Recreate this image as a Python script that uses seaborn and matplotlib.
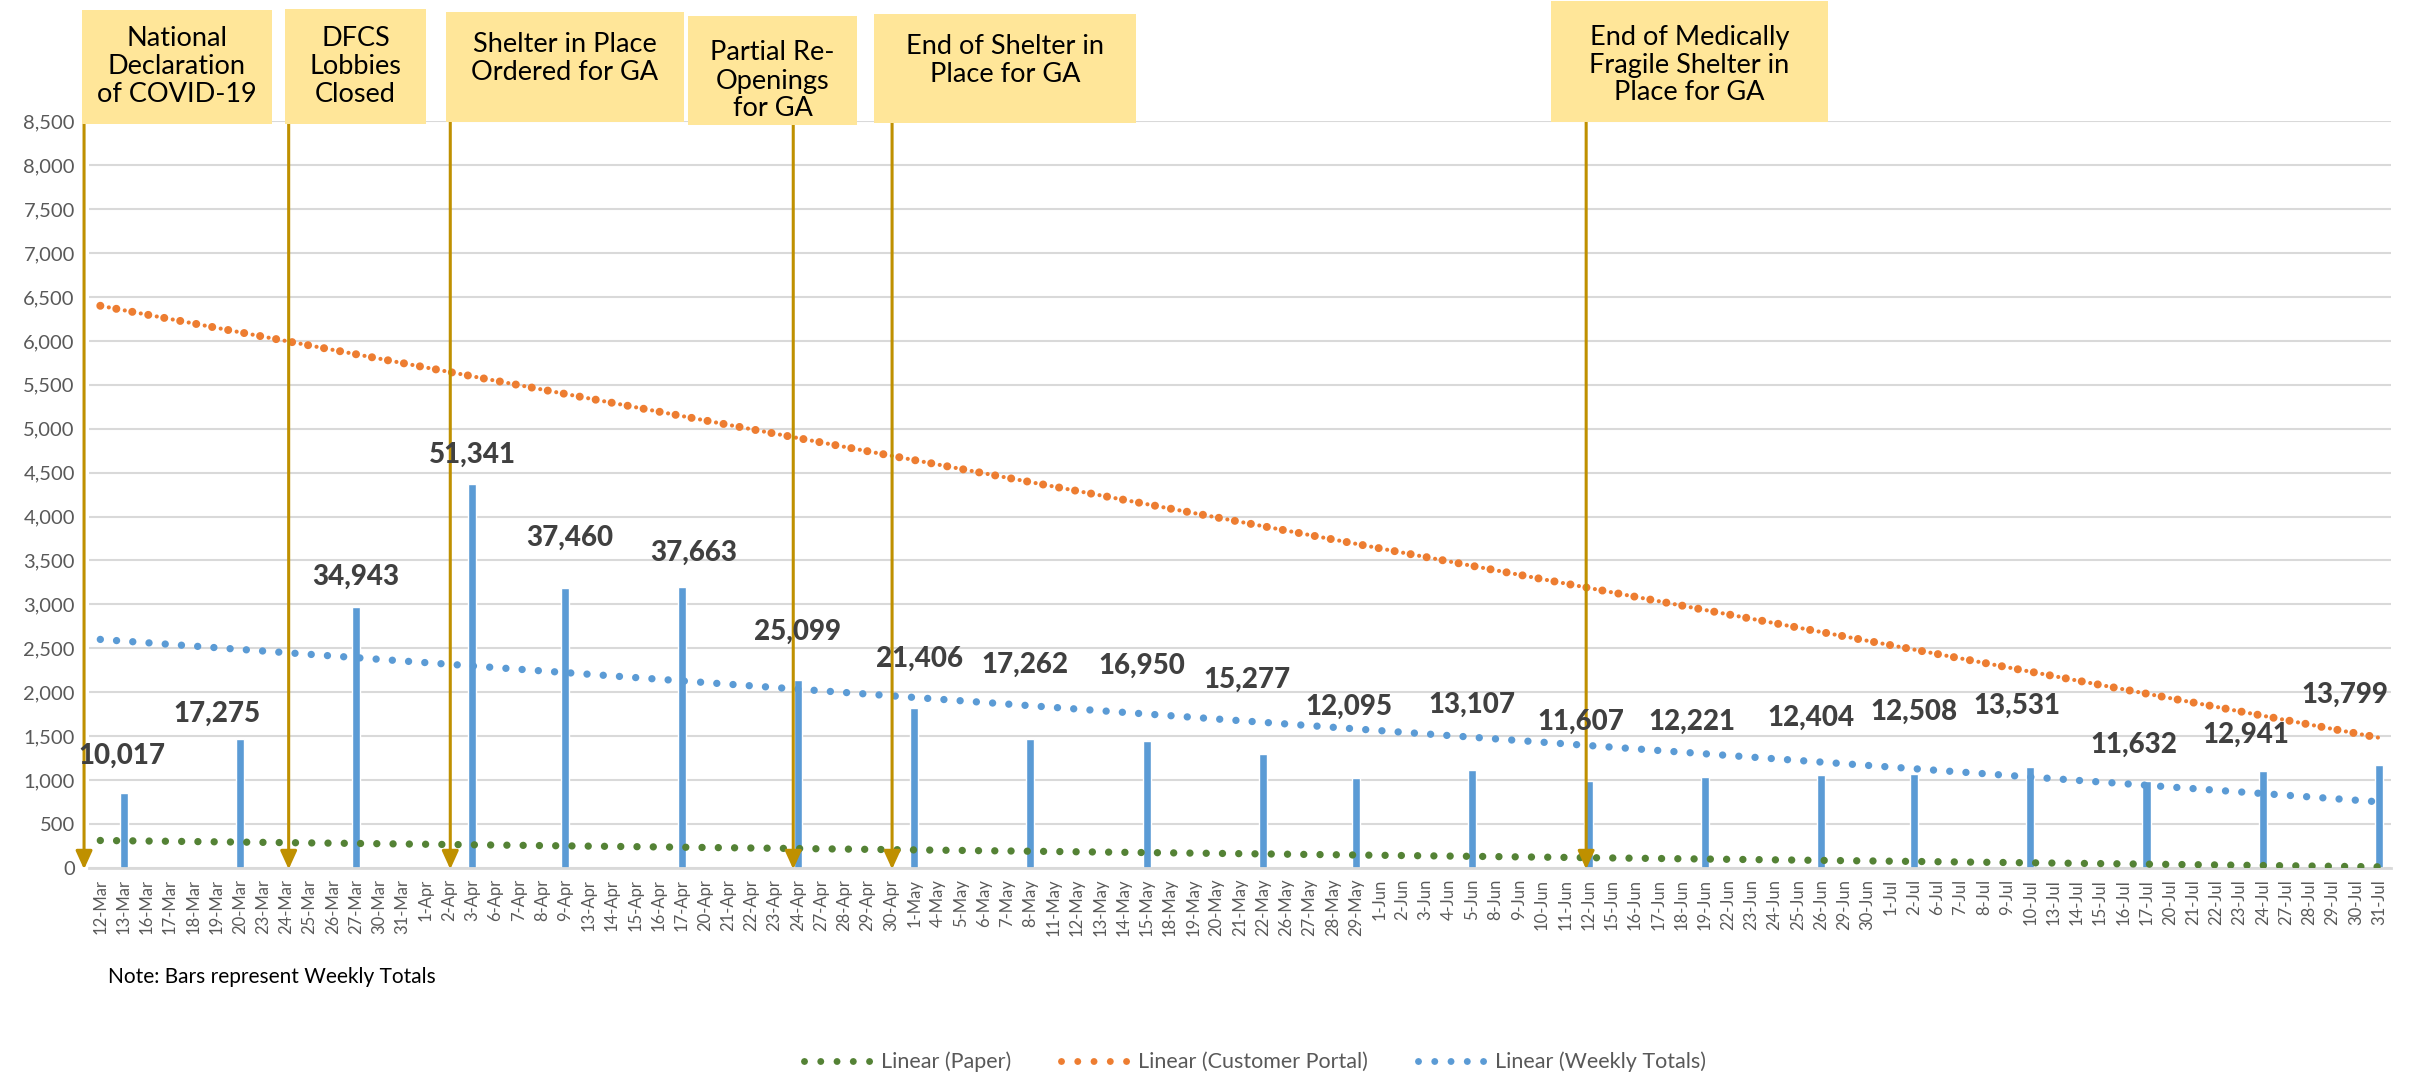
import pandas as pd
import matplotlib.pyplot as plt
import matplotlib.patches as patches
from matplotlib.lines import Line2D
import seaborn as sns

# Data
dates = ['12-Mar', '13-Mar', '16-Mar', '17-Mar', '18-Mar', '19-Mar', '20-Mar', '23-Mar', '24-Mar', '25-Mar',
         '26-Mar', '27-Mar', '30-Mar', '31-Mar',
         '1-Apr', '2-Apr', '3-Apr', '6-Apr', '7-Apr', '8-Apr', '9-Apr', '13-Apr', '14-Apr', '15-Apr', '16-Apr',
         '17-Apr', '20-Apr', '21-Apr', '22-Apr', '23-Apr', '24-Apr', '27-Apr', '28-Apr', '29-Apr', '30-Apr',
         '1-May', '4-May', '5-May', '6-May', '7-May', '8-May', '11-May', '12-May', '13-May', '14-May', '15-May',
         '18-May', '19-May', '20-May', '21-May', '22-May', '26-May', '27-May', '28-May', '29-May',
         '1-Jun', '2-Jun', '3-Jun', '4-Jun', '5-Jun', '8-Jun', '9-Jun', '10-Jun', '11-Jun', '12-Jun', '15-Jun',
         '16-Jun', '17-Jun', '18-Jun', '19-Jun', '22-Jun', '23-Jun', '24-Jun', '25-Jun', '26-Jun', '29-Jun', '30-Jun',
         '1-Jul', '2-Jul', '6-Jul', '7-Jul', '8-Jul', '9-Jul', '10-Jul', '13-Jul', '14-Jul', '15-Jul', '16-Jul',
         '17-Jul', '20-Jul', '21-Jul', '22-Jul', '23-Jul', '24-Jul', '27-Jul', '28-Jul', '29-Jul', '30-Jul', '31-Jul']

bar_dates = ['13-Mar', '20-Mar', '27-Mar', '3-Apr', '9-Apr', '17-Apr', '24-Apr', '1-May', '8-May', '15-May',
             '22-May', '29-May', '5-Jun', '12-Jun', '19-Jun', '26-Jun', '2-Jul', '10-Jul', '17-Jul', '24-Jul', '31-Jul']
bar_heights = [848, 1464, 2968, 4370, 3181, 3200, 2133, 1820, 1470, 1440,
               1295, 1024, 1112, 983, 1036, 1051, 1062, 1150, 983, 1097, 1173]
weekly_totals = [10017, 17275, 34943, 51341, 37460, 37663, 25099, 21406, 17262, 16950,
                 15277, 12095, 13107, 11607, 12221, 12404, 12508, 13531, 11632, 12941, 13799]

# linear trend values at first and last date
paper_trend = [310, 10]
portal_trend = [6400, 1480]
weekly_trend = [2600, 750]

event_dates = ['12-Mar', '24-Mar', '2-Apr', '24-Apr', '30-Apr', '12-Jun']
event_texts = ['National\nDeclaration\nof COVID-19', 'DFCS\nLobbies\nClosed', 'Shelter in Place\nOrdered for GA',
               'Partial Re-\nOpenings\nfor GA', 'End of Shelter in\nPlace for GA',
               'End of Medically\nFragile Shelter in\nPlace for GA']

# layout (pixels)
W, H = 2420, 1074
arrow_nudge = [-0.7, 0.1, 0.05, -0.2, 0.05, -0.1]
boxes = [(82, 10, 272, 124, 67), (285, 9, 426, 124, 67), (446, 12, 684, 122, 59),
         (688, 16, 857, 125, 81), (874, 14, 1136, 123, 61), (1551, 1, 1828, 122, 65)]
label_dx = [-2, -23, 0, 0, 4, 12, 0, 5, -6, -5, -16, -7, 0, -8, -13, -10, 0, -13, -13, -17, -34]
label_gap = [24, 12, 17, 16, 38, 21, 36, 36, 61, 62, 61, 58, 52, 47, 42, 45, 50, 48, 24, 24, 57]

sns.set_style('white')
plt.rcParams['font.family'] = ['Lato', 'DejaVu Sans']
plt.rcParams['lines.scale_dashes'] = False

BLUE = '#5B9BD5'
ORANGE = '#ED7D31'
GREEN = '#548235'
GOLD = '#BF9000'
GRAY = '#595959'

fig = plt.figure(figsize=(W / 100, H / 100), dpi=100)
ax = fig.add_axes([88.7 / W, 1 - 867.7 / H, (2390.7 - 88.7) / W, (867.7 - 121.4) / H])

df = pd.DataFrame({'date': bar_dates, 'height': bar_heights})
sns.barplot(data=df, x='date', y='height', order=dates, color=BLUE, saturation=1,
            width=0.35, errorbar=None, ax=ax, zorder=2)

n = len(dates)
dot = (0, (0.01, 11.7))
ax.plot([0, n - 1], paper_trend, color=GREEN, lw=5.3, linestyle=dot, dash_capstyle='round', zorder=3)
ax.plot([0, n - 1], weekly_trend, color=BLUE, lw=5.3, linestyle=dot, dash_capstyle='round', zorder=3)
ax.plot([0, n - 1], portal_trend, color=ORANGE, lw=5.8, linestyle=dot, dash_capstyle='round', zorder=3)
ax.plot([0, n - 1], portal_trend, color=ORANGE, lw=3, linestyle=(5.5, (0.01, 11.7)),
        dash_capstyle='round', zorder=3)

# value labels
for i, d in enumerate(bar_dates):
    xi = dates.index(d)
    ax.annotate(f'{weekly_totals[i]:,}', xy=(xi, bar_heights[i]),
                xytext=(label_dx[i] / 1.389, label_gap[i] / 1.389), textcoords='offset points',
                ha='center', va='bottom', fontsize=20, fontweight='black', color='#404040', zorder=5)

ax.set_ylim(0, 8500)
ax.set_xlim(-0.5, n - 0.5)
ax.set_yticks(range(0, 8501, 500))
ax.yaxis.set_major_formatter(plt.FuncFormatter(lambda v, p: f'{int(v):,}'))
ax.grid(axis='y', color='#D9D9D9', lw=1.5, zorder=0)
ax.set_axisbelow(True)
for s in ['top', 'right', 'left']:
    ax.spines[s].set_visible(False)
ax.spines['bottom'].set_color('#D9D9D9')
ax.spines['bottom'].set_linewidth(2)
ax.tick_params(axis='x', length=0, pad=8, labelsize=12, labelcolor=GRAY, labelrotation=90)
ax.tick_params(axis='y', length=0, pad=10, labelsize=14.5, labelcolor=GRAY)
ax.set_xlabel('')
ax.set_ylabel('')

# event arrows and boxes
for k, d in enumerate(event_dates):
    xi = dates.index(d) + arrow_nudge[k]
    ax.annotate('', xy=(xi, -18), xytext=(xi, 8530), annotation_clip=False,
                arrowprops=dict(arrowstyle='-|>,head_length=1.1,head_width=0.5', color=GOLD, lw=2.2,
                                shrinkA=0, shrinkB=0), zorder=4)
    x0, y0, x1, y1, cy = boxes[k]
    fig.patches.append(patches.Rectangle((x0 / W, 1 - y1 / H), (x1 - x0) / W, (y1 - y0) / H,
                                         transform=fig.transFigure, facecolor='#FFE699', edgecolor='none',
                                         zorder=6))
    fig.text((x0 + x1) / 2 / W, 1 - cy / H, event_texts[k], ha='center', va='center', fontsize=19.5,
             color='black', linespacing=1.15, zorder=7)

fig.text(108 / W, 1 - 977 / H, 'Note: Bars represent Weekly Totals', fontsize=15, color='black',
         ha='left', va='center')

handles = [Line2D([], [], color=c, lw=5, linestyle=(0, (0.01, 11.7)), dash_capstyle='round')
           for c in [GREEN, ORANGE, BLUE]]
fig.legend(handles, ['Linear (Paper)', 'Linear (Customer Portal)', 'Linear (Weekly Totals)'],
           loc='center', bbox_to_anchor=(1255 / W, 1 - 1062 / H), ncol=3, frameon=False,
           fontsize=15.5, labelcolor=GRAY, handlelength=3.3, handletextpad=0.3, columnspacing=2.3)

fig.savefig('out.png', dpi=100)
